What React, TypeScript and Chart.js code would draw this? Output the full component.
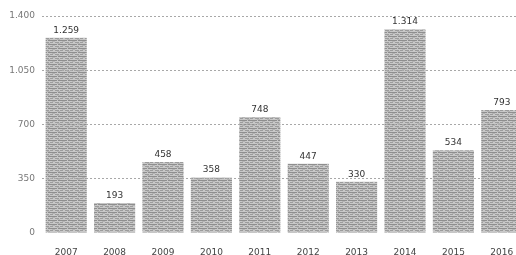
import React, { useEffect, useRef } from "react";
import { Chart, registerables } from "chart.js";

Chart.register(...registerables);

const years = ["2007", "2008", "2009", "2010", "2011", "2012", "2013", "2014", "2015", "2016"];
const values = [1259, 193, 458, 358, 748, 447, 330, 1314, 534, 793];
const yTicks = [0, 350, 700, 1050, 1400];

const fmt = (v: number) => String(v).replace(/\B(?=(\d{3})+(?!\d))/g, ".");

const FONT = "'DejaVu Sans', sans-serif";

function makePattern(): CanvasPattern | string {
  const c = document.createElement("canvas");
  c.width = 10;
  c.height = 4;
  const g = c.getContext("2d");
  if (!g) return "#a8a8a8";
  g.fillStyle = "#c8c8c8";
  g.fillRect(0, 0, 10, 4);
  g.fillStyle = "#8e8e8e";
  g.fillRect(0, 0, 7, 1);
  g.fillRect(8, 0, 2, 1);
  g.fillStyle = "#9c9c9c";
  g.fillRect(5, 2, 4, 1);
  g.fillRect(0, 2, 3, 1);
  g.fillStyle = "#b4b4b4";
  g.fillRect(2, 1, 3, 1);
  g.fillRect(7, 3, 3, 1);
  const ctx = document.createElement("canvas").getContext("2d");
  return ctx ? (ctx.createPattern(c, "repeat") as CanvasPattern) : "#a8a8a8";
}

const labelPlugin = {
  id: "valueLabels",
  afterDatasetsDraw(chart: any) {
    const ctx = chart.ctx;
    const meta = chart.getDatasetMeta(0);
    ctx.save();
    ctx.font = `9px ${FONT}`;
    ctx.fillStyle = "#333";
    ctx.textAlign = "center";
    ctx.textBaseline = "bottom";
    meta.data.forEach((bar: any, i: number) => {
      ctx.fillText(fmt(values[i]), bar.x, bar.y - 3);
    });
    ctx.restore();
  },
};

export default function App() {
  const ref = useRef<HTMLCanvasElement | null>(null);
  useEffect(() => {
    document.body.style.margin = "0";
    document.body.style.overflow = "hidden";
    if (!ref.current) return;
    const chart = new Chart(ref.current, {
      type: "bar",
      data: {
        labels: years,
        datasets: [
          {
            data: values,
            backgroundColor: makePattern() as any,
            borderWidth: 0,
            barPercentage: 0.85,
            categoryPercentage: 1,
          },
        ],
      },
      options: {
        responsive: false,
        animation: false,
        layout: { padding: { top: 16, right: 4, left: 0, bottom: 0 } },
        plugins: { legend: { display: false }, tooltip: { enabled: false } },
        scales: {
          x: {
            grid: { display: false },
            border: { display: false },
            ticks: { font: { family: FONT, size: 9 }, color: "#444", padding: 6, maxRotation: 0 },
            afterFit: (s: any) => {
              s.height = 22;
            },
          },
          y: {
            min: 0,
            max: 1400,
            afterBuildTicks: (s: any) => {
              s.ticks = yTicks.map((v) => ({ value: v }));
            },
            grid: {
              color: (c: any) => (c.tick && c.tick.value === 0 ? "rgba(0,0,0,0)" : "#a8a8a8"),
              drawTicks: false,
              lineWidth: 1,
              z: 1,
            },
            border: { display: false, dash: [2, 2] },
            ticks: {
              font: { family: FONT, size: 9 },
              color: "#777",
              padding: 7,
              callback: (v: any) => fmt(Number(v)),
            },
            afterFit: (s: any) => {
              s.width = 42;
            },
          },
        },
      },
      plugins: [labelPlugin],
    });
    return () => chart.destroy();
  }, []);
  return (
    <div style={{ width: 516, height: 255, overflow: "hidden" }}>
      <canvas ref={ref} width={530} height={255} style={{ display: "block" }} />
    </div>
  );
}
